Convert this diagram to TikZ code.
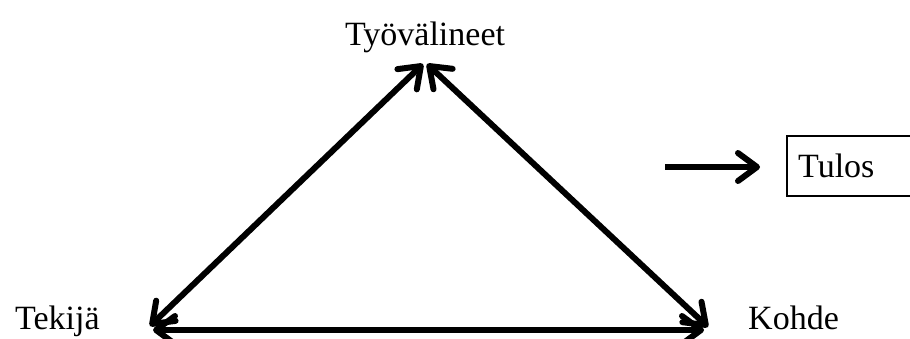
\documentclass[tikz,border=0pt]{standalone}
\usepackage{fontspec}
\setmainfont{Liberation Serif}
\usetikzlibrary{arrows.meta}
\begin{document}
\begin{tikzpicture}[x=1pt,y=-1pt,
  lbl/.style={inner sep=0pt,font=\fontsize{34}{41}\selectfont},
  tip/.tip={Straight Barb[length=19pt,width=28pt,line width=6pt,line cap=round,line join=round]},
  conn/.style={line width=6pt,tip-tip},
  oneway/.style={line width=6pt,-tip}]
\useasboundingbox (0,0) rectangle (910,338);
\node[lbl,anchor=base] (tyo) at (425,45) {Työvälineet};
\node[lbl,anchor=base west] (tek) at (15,329) {Tekijä};
\node[lbl,anchor=base west] (koh) at (748,329) {Kohde};
\draw[line width=1.4pt] (787,136) rectangle (915,196);
\node[lbl,anchor=base west] (tul) at (798,177) {Tulos};
\coordinate (apexL) at (423,64);
\coordinate (apexR) at (427,64);
\coordinate (bl) at (150,326);
\coordinate (blb) at (153,330);
\coordinate (br) at (708,327);
\coordinate (brb) at (704,330);
\coordinate (ts) at (665,167);
\coordinate (te) at (760,167);
\draw[conn] (bl) -- (apexL);
\draw[conn] (apexR) -- (br);
\draw[conn] (blb) -- (brb);
\draw[oneway] (ts) -- (te);
\end{tikzpicture}
\end{document}
